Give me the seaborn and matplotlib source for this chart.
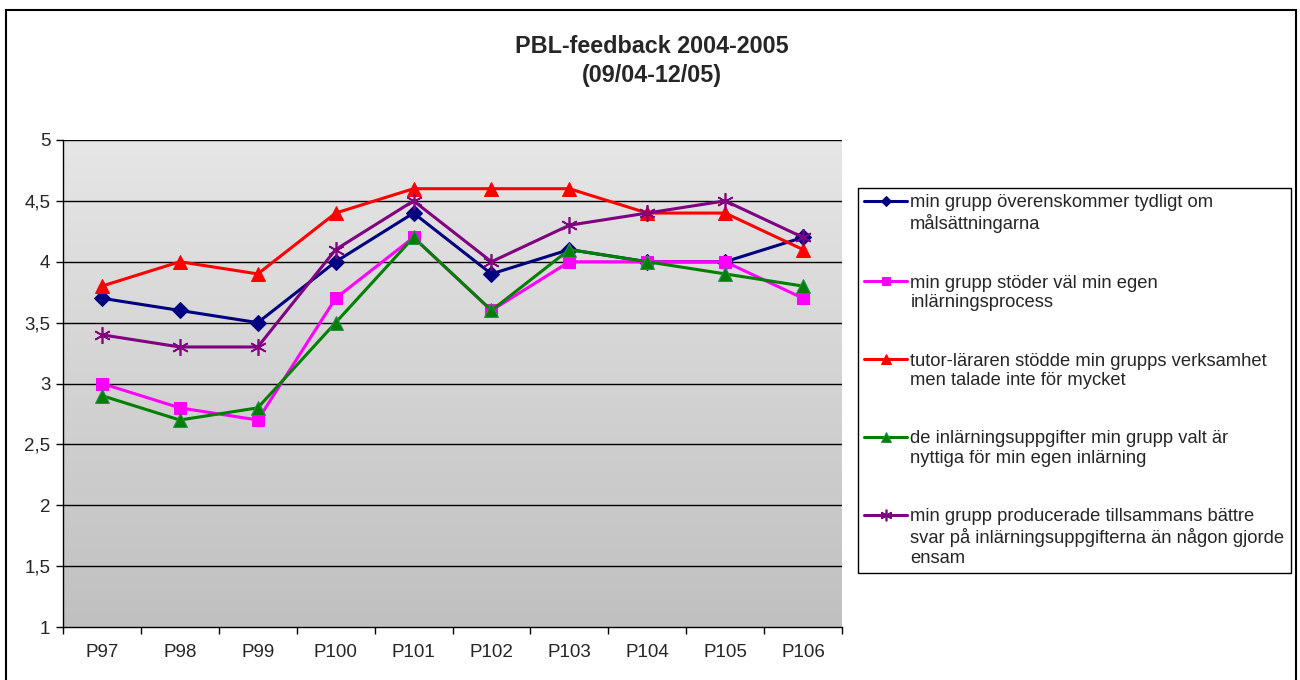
import numpy as np
import pandas as pd
import matplotlib
matplotlib.use("Agg")
import matplotlib.pyplot as plt
import seaborn as sns
from matplotlib.patches import Rectangle

# ============================================
# DATA
# ============================================

periods = ["P97", "P98", "P99", "P100", "P101", "P102", "P103", "P104", "P105", "P106"]

malsattning = [3.7, 3.6, 3.5, 4.0, 4.4, 3.9, 4.1, 4.0, 4.0, 4.2]
stoder = [3.0, 2.8, 2.7, 3.7, 4.2, 3.6, 4.0, 4.0, 4.0, 3.7]
tutor = [3.8, 4.0, 3.9, 4.4, 4.6, 4.6, 4.6, 4.4, 4.4, 4.1]
uppgifter = [2.9, 2.7, 2.8, 3.5, 4.2, 3.6, 4.1, 4.0, 3.9, 3.8]
tillsammans = [3.4, 3.3, 3.3, 4.1, 4.5, 4.0, 4.3, 4.4, 4.5, 4.2]

labels = [
    "min grupp överenskommer tydligt om\nmålsättningarna",
    "min grupp stöder väl min egen\ninlärningsprocess",
    "tutor-läraren stödde min grupps verksamhet\nmen talade inte för mycket",
    "de inlärningsuppgifter min grupp valt är\nnyttiga för min egen inlärning",
    "min grupp producerade tillsammans bättre\nsvar på inlärningsuppgifterna än någon gjorde\nensam",
]

yticks = [1, 1.5, 2, 2.5, 3, 3.5, 4, 4.5, 5]
ytick_labels = ["1", "1,5", "2", "2,5", "3", "3,5", "4", "4,5", "5"]

# ============================================
# STYLE
# ============================================

sns.set_style("white")
plt.rcParams["font.family"] = ["Liberation Sans", "DejaVu Sans"]

styles = [
    dict(color="#000080", marker="D", markersize=8, markeredgecolor="#000080"),
    dict(color="#ff00ff", marker="s", markersize=9, markeredgecolor="#ff00ff"),
    dict(color="#ff0000", marker="^", markersize=10, markeredgecolor="#ff0000"),
    dict(color="#008000", marker="^", markersize=10, markeredgecolor="#2e8b57"),
    dict(color="#800080", marker=(6, 2, 0), markersize=12, markeredgecolor="#800080",
         markeredgewidth=1.2),
]

series = [malsattning, stoder, tutor, uppgifter, tillsammans]

fig = plt.figure(figsize=(13, 6.8), dpi=100)
ax = fig.add_axes([63 / 1300, 53 / 680, 779 / 1300, 487 / 680])

# gradient plot background
grad = np.linspace(0, 1, 256).reshape(-1, 1)
cmap = matplotlib.colors.LinearSegmentedColormap.from_list("bg", ["#e6e6e6", "#c0c0c0"])
ax.imshow(grad, cmap=cmap, extent=[-0.5, 9.5, 1, 5], aspect="auto", zorder=0,
          interpolation="bicubic")

x = np.arange(len(periods))
for vals, lab, st in zip(series, labels, styles):
    sns.lineplot(x=x, y=vals, ax=ax, label=lab, linewidth=2.2, zorder=3, **st)

ax.set_xlim(-0.5, 9.5)
ax.set_ylim(1, 5)

for yv in yticks[1:]:
    ax.axhline(yv, color="black", linewidth=1, zorder=1)

ax.set_yticks(yticks)
ax.set_yticklabels(ytick_labels, fontsize=13.5)
ax.set_xticks(x)
ax.set_xticklabels(periods, fontsize=13.5)
ax.set_xticks(np.arange(-0.5, 10, 1), minor=True)
ax.tick_params(axis="x", which="major", length=0, pad=12)
ax.tick_params(axis="x", which="minor", length=5, width=1, color="black", direction="out")
ax.tick_params(axis="y", length=5, width=1, color="black", direction="out", pad=4)
ax.tick_params(bottom=True, left=True)
ax.xaxis.set_tick_params(which="minor", bottom=True)

for side in ["top", "right"]:
    ax.spines[side].set_visible(False)
for side in ["left", "bottom"]:
    ax.spines[side].set_color("black")
    ax.spines[side].set_linewidth(1)

ax.set_xlabel("")
ax.set_ylabel("")

ax.legend_.remove()
handles, leg_labels = ax.get_legend_handles_labels()
leg = fig.legend(
    handles, leg_labels,
    loc="upper left",
    bbox_to_anchor=(858 / 1300, 1 - 188 / 680),
    fontsize=13.2,
    frameon=True,
    fancybox=False,
    edgecolor="black",
    framealpha=1,
    labelspacing=2.25,
    handlelength=2.3,
    handletextpad=0.2,
    borderpad=0.35,
    borderaxespad=0,
    markerscale=0.7,
)
leg.get_frame().set_linewidth(1)

# put each legend line next to the first line of its label
for column in leg._legend_handle_box.get_children():
    for item in column.get_children():
        item.align = "top"
        item.get_children()[0].set_offset((0, -3))

fig.text(652 / 1300, 1 - 61 / 680, "PBL-feedback 2004-2005\n(09/04-12/05)",
         ha="center", va="center", fontsize=16.8, fontweight="bold", linespacing=1.35)

# outer chart border
fig.patches.append(Rectangle((6 / 1300, -0.01), 1290 / 1300, 1 - 10 / 680 + 0.01,
                             transform=fig.transFigure, fill=False,
                             edgecolor="black", linewidth=1.5))

fig.savefig("out.png", dpi=100)
